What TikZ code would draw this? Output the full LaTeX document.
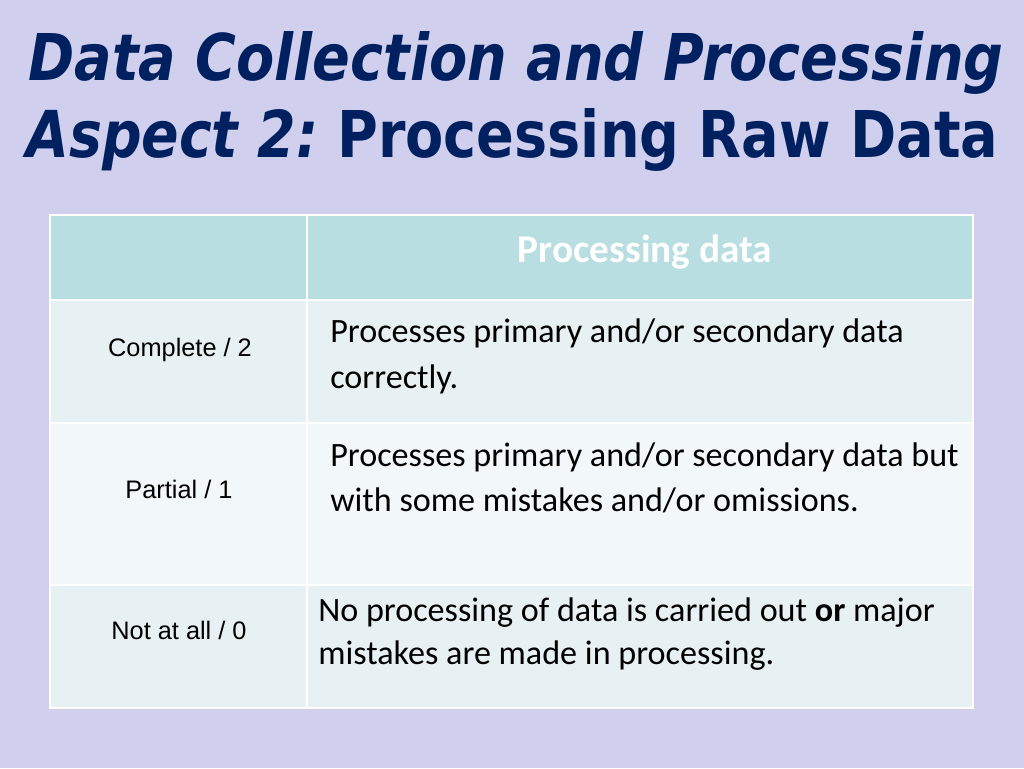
\documentclass[tikz,border=0pt]{standalone}
\usepackage{fontspec}
\usepackage{graphicx}
\setmainfont{Carlito}
\newfontfamily\titlefont{DejaVu Sans}
\newfontfamily\arialfont{Liberation Sans}
\definecolor{bg}{RGB}{209,207,238}
\definecolor{navy}{RGB}{0,32,96}
\definecolor{hdr}{RGB}{184,222,226}
\definecolor{rowA}{RGB}{231,241,244}
\definecolor{rowB}{RGB}{242,248,249}
\newlength\px
\setlength\px{0.75pt}
\begin{document}
\begin{tikzpicture}[x=0.75pt,y=-0.75pt,
  cell/.style={draw=white, line width=1.5pt},
  body/.style={anchor=base west, inner sep=0, font=\fontsize{25.6pt}{30pt}\selectfont},
  lab/.style={anchor=base, inner sep=0, font=\arialfont\fontsize{19pt}{22pt}\selectfont},
  ttl/.style={anchor=base west, inner sep=0, text=navy},
]
\fill[bg] (0,0) rectangle (1024,768);
\useasboundingbox (0,0) rectangle (1024,768);
% title
\node[ttl] (t1) at (28,80) {\titlefont\bfseries\itshape\resizebox{975\px}{49\px}{Data Collection and Processing}};
\node[ttl] (t2) at (26,157) {\titlefont\bfseries\itshape\resizebox{292\px}{48\px}{Aspect 2:}};
\node[ttl] (t3) at (337,157) {\titlefont\bfseries\resizebox{661\px}{49\px}{Processing Raw Data}};
% table cells
\path[cell, fill=hdr] (50,215) rectangle (307,300);
\path[cell, fill=hdr] (307,215) rectangle (973,300);
\path[cell, fill=rowA] (50,300) rectangle (307,423);
\path[cell, fill=rowA] (307,300) rectangle (973,423);
\path[cell, fill=rowB] (50,423) rectangle (307,585);
\path[cell, fill=rowB] (307,423) rectangle (973,585);
\path[cell, fill=rowA] (50,585) rectangle (307,708);
\path[cell, fill=rowA] (307,585) rectangle (973,708);
% header
\node[anchor=base, inner sep=0, text=white, font=\bfseries\fontsize{29.5pt}{34pt}\selectfont] (hd) at (645,262) {Processing data};
% left labels
\node[lab] (l1) at (180,356) {Complete / 2};
\node[lab] (l2) at (179,498) {Partial / 1};
\node[lab] (l3) at (179,639) {Not at all / 0};
% body text
\node[body] (r1a) at (330,342) {Processes primary and/or secondary data};
\node[body] (r1b) at (330,388) {correctly.};
\node[body] (r2a) at (330,466) {Processes primary and/or secondary data but};
\node[body] (r2b) at (330,511) {with some mistakes and/or omissions.};
\node[body] (r3a) at (318,621) {No processing of data is carried out \textbf{or} major};
\node[body] (r3b) at (318,664) {mistakes are made in processing.};
\end{tikzpicture}
\end{document}
